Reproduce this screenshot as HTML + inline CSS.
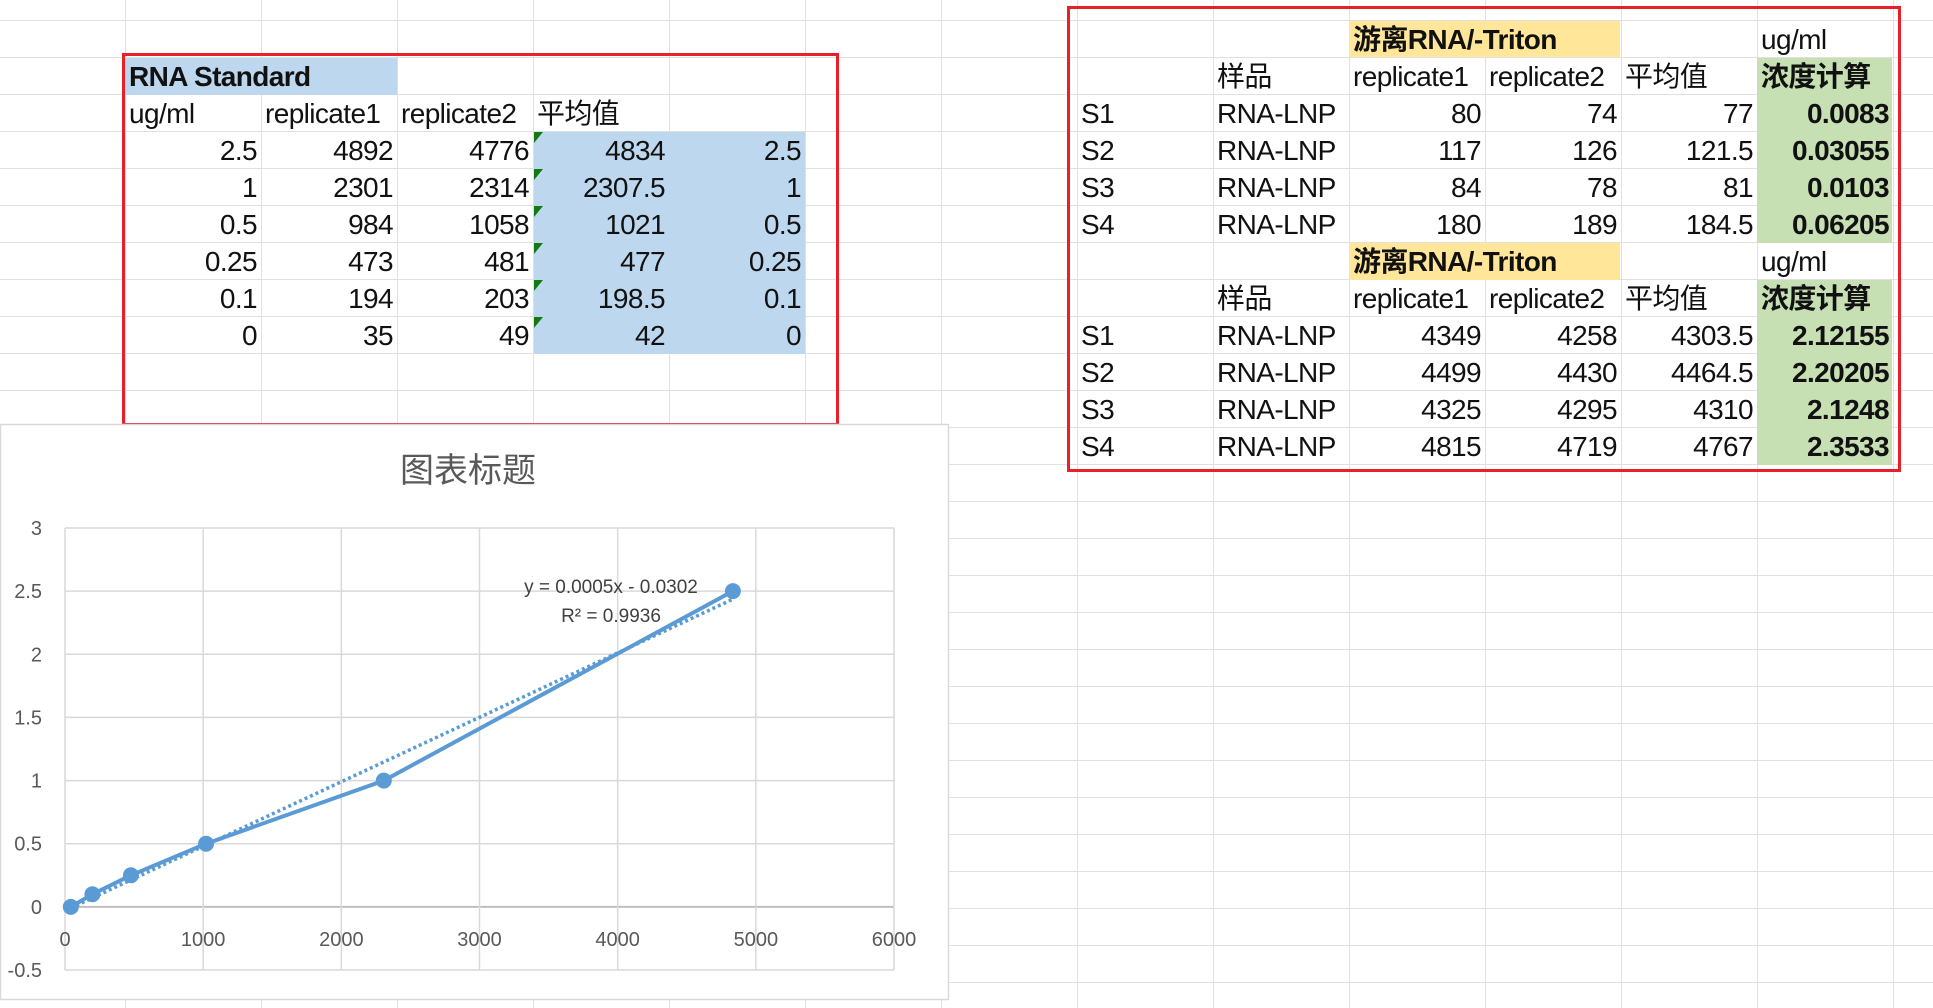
<!DOCTYPE html>
<html><head><meta charset="utf-8">
<style>
html,body{margin:0;padding:0}
body{width:1933px;height:1008px;position:relative;overflow:hidden;background-color:#fff;
background-image:linear-gradient(to right,#e0e0e0 1px,transparent 1px),linear-gradient(to bottom,#e0e0e0 1px,transparent 1px);
background-size:136px 37px;background-position:-11px 20px;
font-family:"Liberation Sans","Noto Sans CJK SC",sans-serif;color:#111;}
.c{position:absolute;height:37px;line-height:40px;font-size:28px;white-space:nowrap;box-sizing:border-box;padding:0 4px;letter-spacing:-0.6px}
.r{text-align:right}
.b{font-weight:bold}
.fill{position:absolute}
.box{position:absolute;border:3px solid #e8202a;box-sizing:border-box}
.tri{position:absolute;width:0;height:0;border-top:11px solid #127a12;border-right:9px solid transparent}
</style></head><body>
<div id="sheet"></div>
<svg id="chart" width="1933" height="1008" style="position:absolute;left:0;top:0"></svg>
<script>
// ---------- spreadsheet data ----------
const stdConc=["2.5","1","0.5","0.25","0.1","0"];
const stdRep1=["4892","2301","984","473","194","35"];
const stdRep2=["4776","2314","1058","481","203","49"];
const stdAvg=["4834","2307.5","1021","477","198.5","42"];
const freeS=["S1","S2","S3","S4"];
const freeRep1=["80","117","84","180"];
const freeRep2=["74","126","78","189"];
const freeAvg=["77","121.5","81","184.5"];
const freeConc=["0.0083","0.03055","0.0103","0.06205"];
const totRep1=["4349","4499","4325","4815"];
const totRep2=["4258","4430","4295","4719"];
const totAvg=["4303.5","4464.5","4310","4767"];
const totConc=["2.12155","2.20205","2.1248","2.3533"];
// ---------- chart data ----------
const xVals=[4834,2307.5,1021,477,198.5,42];
const yVals=[2.5,1,0.5,0.25,0.1,0];
const xTicks=[0,1000,2000,3000,4000,5000,6000];
const yTicks=[-0.5,0,0.5,1,1.5,2,2.5,3];
const trendLabel="y = 0.0005x - 0.0302";
const r2Label="R² = 0.9936";

const sheet=document.getElementById('sheet');
const COL=x=>125+136*x;
const ROW=y=>20+37*y;
function fill(x,y,w,h,color,name){const d=document.createElement('div');d.className='fill';


d.style.cssText=`left:${x}px;top:${y}px;width:${w}px;height:${h}px;background:${color}`;sheet.appendChild(d);}
function cell(col,row,text,opts,name){const d=document.createElement('div');d.className='c'+(opts||'');


d.style.left=COL(col)+'px';d.style.top=ROW(row)+'px';d.style.width='136px';d.textContent=text;sheet.appendChild(d);}
fill(125,58,272,37,'#bdd7ee','rna-standard-header-fill');
fill(534,132,271,222,'#bdd7ee','average-fill');
fill(1349,21,271,36,'#ffe699','free-rna-header-fill');
fill(1349,243,271,37,'#ffe699','total-rna-header-fill');
fill(1757,58,135,185,'#c6e0b4','free-conc-fill');
fill(1757,280,135,185,'#c6e0b4','total-conc-fill');
cell(0,1,'RNA Standard',' b','rna-standard-title');
cell(0,2,'ug/ml','','unit-header');
cell(1,2,'replicate1','','replicate1-header');
cell(2,2,'replicate2','','replicate2-header');
cell(3,2,'平均值','','average-header');
for(let i=0;i<6;i++){
 cell(0,3+i,stdConc[i],' r','std-conc');
 cell(1,3+i,stdRep1[i],' r','std-rep1');
 cell(2,3+i,stdRep2[i],' r','std-rep2');
 cell(3,3+i,stdAvg[i],' r','std-avg');
 cell(4,3+i,stdConc[i],' r','std-conc-copy');
 const t=document.createElement('div');t.className='tri';
 
 
 t.style.left='534px';t.style.top=(ROW(3+i)+1)+'px';sheet.appendChild(t);
}
function block(r0,rep1,rep2,avg,conc,pfx){
 cell(9,r0,'游离RNA/-Triton',' b',pfx+'-title');
 cell(12,r0,'ug/ml','',pfx+'-unit');
 cell(8,r0+1,'样品','',pfx+'-sample-header');
 cell(9,r0+1,'replicate1','',pfx+'-rep1-header');
 cell(10,r0+1,'replicate2','',pfx+'-rep2-header');
 cell(11,r0+1,'平均值','',pfx+'-avg-header');
 cell(12,r0+1,'浓度计算',' b',pfx+'-conc-header');
 for(let i=0;i<4;i++){
  cell(7,r0+2+i,freeS[i],'',pfx+'-sample-id');
  cell(8,r0+2+i,'RNA-LNP','',pfx+'-sample-name');
  cell(9,r0+2+i,rep1[i],' r',pfx+'-rep1');
  cell(10,r0+2+i,rep2[i],' r',pfx+'-rep2');
  cell(11,r0+2+i,avg[i],' r',pfx+'-avg');
  cell(12,r0+2+i,conc[i],' r b',pfx+'-conc');
 }
}
block(0,freeRep1,freeRep2,freeAvg,freeConc,'free-rna');
block(6,totRep1,totRep2,totAvg,totConc,'total-rna');
[[122,53,717,373,'standard-table-box'],[1067,6,834,466,'sample-table-box']].forEach(b=>{
 const d=document.createElement('div');d.className='box';
 
 
 d.style.cssText=`left:${b[0]}px;top:${b[1]}px;width:${b[2]}px;height:${b[3]}px`;sheet.appendChild(d);});

// ---------- chart ----------
const svg=document.getElementById('chart');const NS='http://www.w3.org/2000/svg';
function el(tag,attrs,name,txt){const e=document.createElementNS(NS,tag);for(const k in attrs)e.setAttribute(k,attrs[k]);


if(txt!==undefined)e.textContent=txt;svg.appendChild(e);return e;}
const PL=65,PR=894,PT=528,PB=970,xMin=0,xMax=6000,yMin=-0.5,yMax=3;
const sx=v=>PL+(v-xMin)/(xMax-xMin)*(PR-PL);
const sy=v=>PB-(v-yMin)/(yMax-yMin)*(PB-PT);
el('rect',{x:0.5,y:424.5,width:948,height:575,fill:'#fff',stroke:'#d9d9d9','stroke-width':1.5},'chart-area');
el('text',{x:468,y:482,'text-anchor':'middle','font-size':34,fill:'#595959','font-family':'"Liberation Sans","Noto Sans CJK SC",sans-serif'},'chart-title','图表标题');
yTicks.forEach(t=>{el('line',{x1:PL,x2:PR,y1:sy(t),y2:sy(t),stroke:t===0?'#bfbfbf':'#d9d9d9','stroke-width':t===0?2:1.5},'y-gridline');
 el('text',{x:42,y:sy(t)+7,'text-anchor':'end','font-size':20,fill:'#595959'},'y-tick-label',String(t));});
xTicks.forEach(t=>{el('line',{x1:sx(t),x2:sx(t),y1:PT,y2:PB,stroke:'#d9d9d9','stroke-width':1.5},'x-gridline');
 el('text',{x:sx(t),y:946,'text-anchor':'middle','font-size':20,fill:'#595959'},'x-tick-label',String(t));});
const n=xVals.length,mx=xVals.reduce((a,b)=>a+b)/n,my=yVals.reduce((a,b)=>a+b)/n;
let sxy=0,sxx=0;for(let i=0;i<n;i++){sxy+=(xVals[i]-mx)*(yVals[i]-my);sxx+=(xVals[i]-mx)**2;}
const slope=sxy/sxx,icpt=my-slope*mx;
const xs=Math.min(...xVals),xe=Math.max(...xVals);
el('line',{x1:sx(xs),y1:sy(slope*xs+icpt),x2:sx(xe),y2:sy(slope*xe+icpt),stroke:'#5b9bd5','stroke-width':3.5,'stroke-dasharray':'3 3'},'trendline');
const order=xVals.map((v,i)=>i).sort((a,b)=>xVals[a]-xVals[b]);
el('polyline',{points:order.map(i=>sx(xVals[i])+','+sy(yVals[i])).join(' '),fill:'none',stroke:'#5b9bd5','stroke-width':4,'stroke-linejoin':'round'},'data-line');
order.forEach(i=>el('circle',{cx:sx(xVals[i]),cy:sy(yVals[i]),r:8,fill:'#5b9bd5'},'data-point'));
el('text',{x:611,y:593,'text-anchor':'middle','font-size':19,fill:'#404040'},'trendline-equation',trendLabel);
el('text',{x:611,y:622,'text-anchor':'middle','font-size':19,fill:'#404040'},'r-squared-label',r2Label);
</script>
</body></html>
